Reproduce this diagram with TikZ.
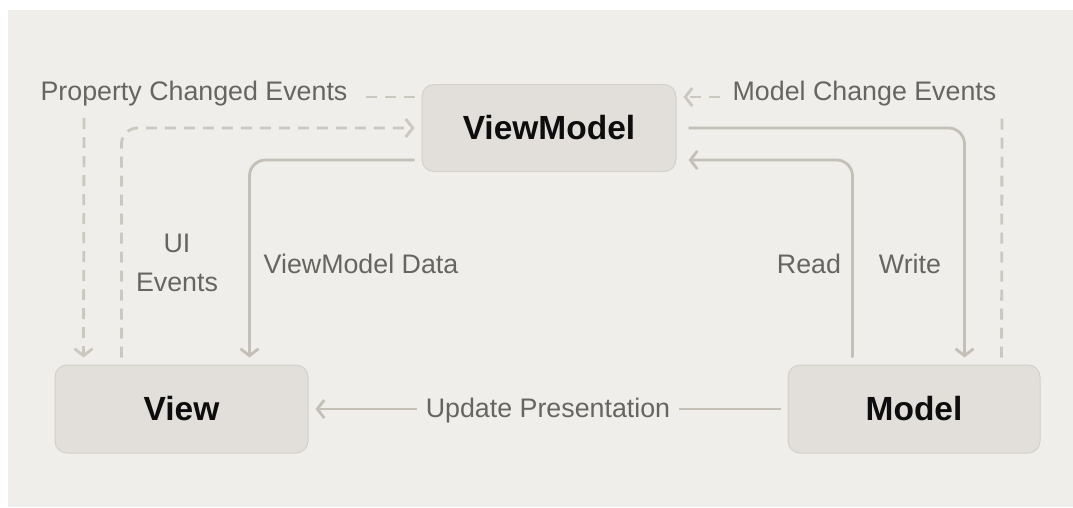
\documentclass[tikz,border=0pt]{standalone}
\usepackage{fontspec}
\setmainfont{Liberation Sans}
\usetikzlibrary{arrows.meta}
\definecolor{panelbg}{HTML}{EFEEEB}
\definecolor{boxfill}{HTML}{E2DFDB}
\definecolor{boxline}{HTML}{D4D0CA}
\definecolor{linecol}{HTML}{C4BFB7}
\definecolor{dashcol}{HTML}{CCC7BF}
\definecolor{labelcol}{HTML}{67655F}
\tikzset{
  x=1pt, y=-1pt,
  box/.style={draw=boxline, line width=1pt, fill=boxfill, rounded corners=12pt,
    font=\fontsize{33.5}{38}\selectfont\bfseries, text=black!95, inner sep=0pt},
  lbl/.style={font=\fontsize{26.8}{39}\selectfont, text=labelcol, inner sep=0pt},
  solidline/.style={draw=linecol, line width=2.8pt, rounded corners=16pt},
  dline/.style={draw=dashcol, line width=2.8pt, dash pattern=on 11pt off 8pt, rounded corners=16pt},
  arr/.style={-{Straight Barb[length=7pt,width=18pt]}},
}
\begin{document}
\begin{tikzpicture}
\useasboundingbox (0,0) rectangle (1073,507);
\fill[white] (0,0) rectangle (1073,507);
\fill[panelbg] (8,10) rectangle (1073,507);

\node[box, minimum width=254pt, minimum height=87pt] (VM) at (549,128) {ViewModel};
\node[box, minimum width=253pt, minimum height=88pt] (V) at (181.5,409) {View};
\node[box, minimum width=252pt, minimum height=88pt] (M) at (914,409) {Model};

\node[lbl] (PCE) at (194,94) {Property Changed Events};
\node[lbl] (MCE) at (864.5,94) {Model Change Events};
\node[lbl, align=center] (UIE) at (177,263) {UI\\Events};
\node[lbl] (VMD) at (361,264) {ViewModel Data};
\node[lbl] (RD) at (809,264) {Read};
\node[lbl] (WR) at (910,264) {Write};
\node[lbl] (UP) at (548,411) {Update Presentation};

\coordinate (pceTop) at (84,118);
\coordinate (mceBot) at (1002,118);
\coordinate (vmUL) at ([yshift=31pt]VM.west);
\coordinate (vmUR) at ([yshift=31pt]VM.east);

% Property Changed Events
\draw[dline, shorten <=7pt, shorten >=10pt] (vmUL) -- (vmUL -| PCE.east);
\draw[dline, arr, shorten >=7pt] (pceTop) -- ([xshift=29pt]V.north west);
% UI Events
\draw[dline, arr, shorten <=7pt, shorten >=7pt] ([xshift=67pt]V.north west) |- (VM.west);
% ViewModel Data
\draw[solidline, arr, shorten <=7pt, shorten >=7pt] ([yshift=-32pt]VM.west) -| ([xshift=195pt]V.north west);
% Write
\draw[solidline, arr, shorten <=12pt, shorten >=7pt] (VM.east) -| ([xshift=177pt]M.north west);
% Read
\draw[solidline, arr, shorten <=7pt, shorten >=12pt] ([xshift=65pt]M.north west) |- ([yshift=-32pt]VM.east);
% Model Change Events
\draw[dline, shorten <=7pt] ([xshift=214pt]M.north west) -- (mceBot);
\draw[dline, arr, shorten <=12pt, shorten >=7pt] (vmUR -| MCE.west) -- (vmUR);
% Update Presentation
\draw[solidline, shorten <=7pt, shorten >=9pt] (M.west) -- (M.west -| UP.east);
\draw[solidline, arr, shorten <=9pt, shorten >=7pt] (V.east -| UP.west) -- (V.east);
\end{tikzpicture}
\end{document}
